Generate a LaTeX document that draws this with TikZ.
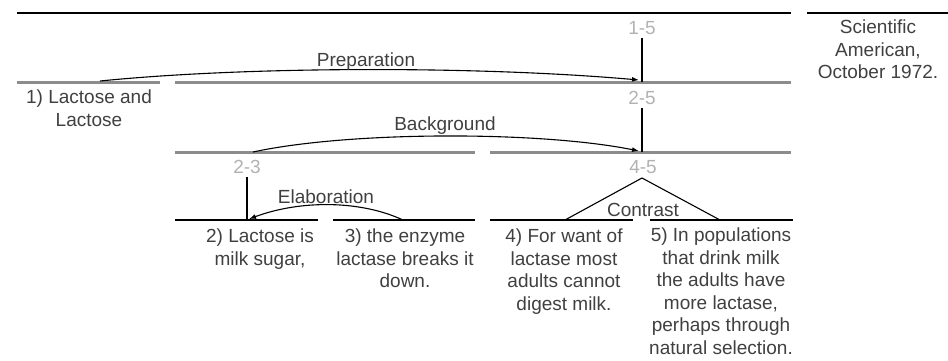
\documentclass[tikz,border=0pt]{standalone}
\usepackage{fontspec}
\setmainfont{Liberation Sans}
\usetikzlibrary{arrows.meta}
\definecolor{ink}{gray}{.25}
\definecolor{spangray}{gray}{.55}
\definecolor{lblgray}{gray}{.7}
\tikzset{
 fnt/.style={font=\fontsize{19}{22.5}\selectfont,inner sep=0pt},
 txt/.style={fnt,text=ink,align=center,anchor=north},
 rng/.style={fnt,text=lblgray},
 rel/.style={fnt,text=ink},
 seg/.style={line width=3pt,draw=spangray},
 base/.style={line width=2pt},
 arc/.style={line width=1.1pt,-{Latex[length=7pt,width=5pt]}},
}
\begin{document}
\begin{tikzpicture}[x=1pt,y=-1pt]
 \useasboundingbox (0,0) rectangle (948,360);
 \draw[base] (17,13)--(791,13); \draw[base] (807,13)--(948,13);
 \draw[seg] (17,82)--(160,82); \draw[seg] (175,82)--(791,82);
 \draw[seg] (175,152)--(475,152); \draw[seg] (490,152)--(791,152);
 \draw[base] (175,220)--(318,220); \draw[base] (333,220)--(475,220);
 \draw[base] (490,220)--(633,220); \draw[base] (650,220)--(793,220);

 \node[rng] (r15) at (642,28) {1-5};
 \node[rng] (r25) at (642,98) {2-5};
 \node[rng] (r23) at (247,167) {2-3};
 \node[rng] (r45) at (643,167) {4-5};
 \coordinate (h15) at (642,82); \coordinate (h25) at (642,152);
 \coordinate (h23) at (247,220); \coordinate (c45) at (642,178);
 \draw[base] (r15.south)++(0,3)--(h15);
 \draw[base] (r25.south)++(0,3)--(h25);
 \draw[base] (r23.south)++(0,3)--(h23);

 \coordinate (p1) at (100,81); \coordinate (p2) at (639,80);
 \coordinate (b1) at (253,152); \coordinate (b2) at (639,151);
 \coordinate (e1) at (403,220); \coordinate (e2) at (249,219);
 \coordinate (k1) at (565,220); \coordinate (k2) at (720,220);
 \draw[arc] (p1) .. controls (250,66) and (480,66) .. (p2);
 \draw[arc] (b1) .. controls (350,131) and (540,131) .. (b2);
 \draw[arc] (e1) .. controls (360,200) and (300,200) .. (e2);
 \draw[line width=1.1pt] (k1)--(c45)--(k2);
 \node[rel] (prep) at (366,62) {Preparation};
 \node[rel] (back) at (445,126) {Background};
 \node[rel] (elab) at (326,197) {Elaboration};
 \node[rel] (cont) at (643,210) {Contrast};

 \node[txt] (u1) at (89,90) {1) Lactose and\\Lactose};
 \node[txt] (u2) at (260,229) {2)\ Lactose is\\milk sugar,};
 \node[txt] (u3) at (405,229) {3) the enzyme\\lactase breaks it\\down.};
 \node[txt] (u4) at (564,229) {4) For want of\\lactase most\\adults cannot\\digest milk.};
 \node[txt] (u5) at (721,228) {5) In populations\\that drink milk\\the adults have\\more lactase,\\perhaps through\\natural selection.};
 \node[txt] (src) at (878,20) {Scientific\\American,\\October 1972.};
\end{tikzpicture}
\end{document}
